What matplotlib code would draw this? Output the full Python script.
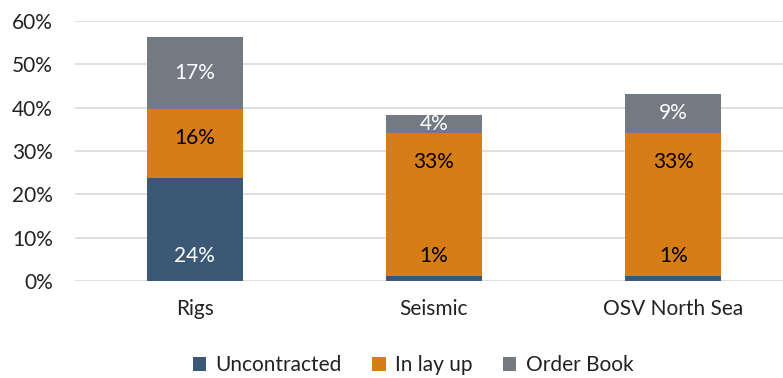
import matplotlib
matplotlib.use("Agg")
import matplotlib.pyplot as plt
import numpy as np

# data (percent)
categories = ["Rigs", "Seismic", "OSV North Sea"]
uncontracted = [23.8, 1.2, 1.2]
lay_up = [16.0, 33.0, 33.0]
order_book = [16.6, 4.1, 9.0]
series_names = ["Uncontracted", "In lay up", "Order Book"]
colors = ["#3B5876", "#D77D18", "#737A82"]

plt.rcParams['font.family'] = ['Lato', 'DejaVu Sans']
fs = 15

fig = plt.figure(figsize=(7.83, 3.78), dpi=100)
ax = fig.add_axes([75 / 783, 97 / 378, 718 / 783, 260 / 378])

x = np.arange(len(categories))
w = 0.4
b1 = ax.bar(x, uncontracted, w, color=colors[0], label=series_names[0], zorder=3)
b2 = ax.bar(x, lay_up, w, bottom=uncontracted, color=colors[1], label=series_names[1], zorder=3)
bottom3 = np.array(uncontracted) + np.array(lay_up)
b3 = ax.bar(x, order_book, w, bottom=bottom3, color=colors[2], label=series_names[2], zorder=3)

# labels: bottom series at base, middle at inside end, top centered
for i in range(len(categories)):
    ax.annotate(f"{round(uncontracted[i])}%", (x[i], 0), xytext=(0, 18),
                textcoords="offset points", ha="center", va="center",
                color="white" if uncontracted[i] > 5 else "black", fontsize=fs, zorder=4)
    ax.annotate(f"{round(lay_up[i])}%", (x[i], bottom3[i]), xytext=(0, -21),
                textcoords="offset points", ha="center", va="center",
                color="black", fontsize=fs, zorder=4)
    ax.annotate(f"{round(order_book[i])}%", (x[i], bottom3[i] + order_book[i] / 2),
                ha="center", va="center", color="white", fontsize=fs, zorder=4)

ax.set_xlim(-0.5, 2.5)
ax.set_ylim(0, 60)
ax.set_yticks(range(0, 61, 10))
ax.set_yticklabels([f"{v}%" for v in range(0, 61, 10)])
ax.set_xticks(x)
ax.set_xticklabels(categories)
ax.tick_params(axis="y", length=0, pad=16, labelsize=fs, colors="#222222")
ax.tick_params(axis="x", length=0, pad=13, labelsize=fs, colors="#222222")
ax.grid(axis="y", color="#D9D9D9", linewidth=1.2, zorder=0)
for s in ax.spines.values():
    s.set_visible(False)

fig.legend(handles=[b1, b2, b3], labels=series_names, loc="center",
           bbox_to_anchor=(413 / 783, 1 - 365 / 378), ncol=3, frameon=False,
           fontsize=fs, handlelength=0.65, handleheight=0.65, handletextpad=0.45,
           columnspacing=1.45, labelcolor="#222222")

fig.savefig("out.png", dpi=100)
